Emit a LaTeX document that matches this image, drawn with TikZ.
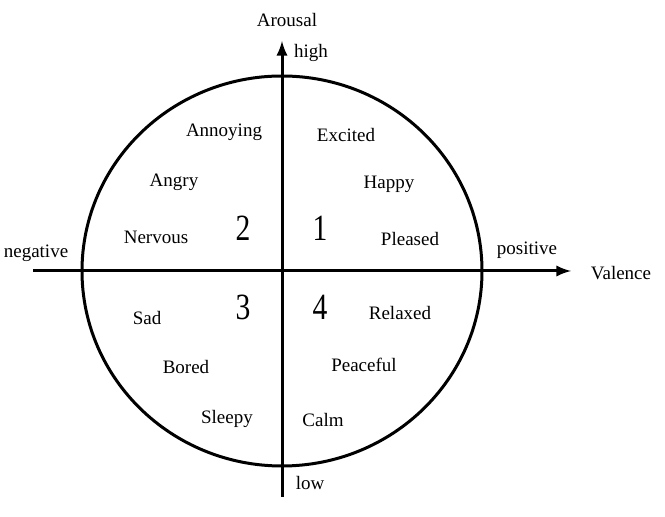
\documentclass[tikz,border=0pt]{standalone}
\usepackage{fontspec}
\setmainfont{Liberation Serif}
\usetikzlibrary{arrows}
\usetikzlibrary{math}

\newcommand{\qnum}[1]{\scalebox{0.8}[1]{#1}}

\begin{document}
\begin{tikzpicture}[x=0.5pt,y=-0.5pt,font=\fontsize{9.5}{11}\selectfont,
  emo/.style={inner sep=0pt},
  quad/.style={inner sep=0pt,font=\fontsize{18.5}{20}\selectfont}]
\tikzmath{
\cx=282;
\cy=271;
}
\useasboundingbox (0,0) rectangle (665,517);

\draw[line width=1.5] (\cx,\cy) ellipse [x radius=100pt, y radius=97.5pt];

\coordinate (west) at (33,\cy);
\coordinate (east) at (571,\cy);
\coordinate (south) at (\cx,497);
\coordinate (north) at (\cx,41);

\draw[-latex, line width=1.5] (west) -- (east);
\draw[-latex, line width=1.5] (south) -- (north);

\node[emo] (arousal) at (287,20) {Arousal};
\node[emo] (high) at (311,53) {high};
\node[emo] (low) at (310,483) {low};
\node[emo] (negative) at (36,253) {negative};
\node[emo] (positive) at (527,250) {positive};
\node[emo] (valence) at (621,273) {Valence};

\node[quad] (q1) at (320,228) {\qnum{1}};
\node[quad] (q2) at (243,228) {\qnum{2}};
\node[quad] (q3) at (243,307) {\qnum{3}};
\node[quad] (q4) at (320,307) {\qnum{4}};

\foreach \nm/\txt/\xp/\yp in {annoying/Annoying/224/132, angry/Angry/174/182,
  nervous/Nervous/156/237, excited/Excited/346/135, happy/Happy/389/184,
  pleased/Pleased/410/239, sad/Sad/147/318, bored/Bored/186/367,
  sleepy/Sleepy/227/419, relaxed/Relaxed/400/313, peaceful/Peaceful/364/365,
  calm/Calm/323/420}{
\node[emo] (\nm) at (\xp,\yp) {\txt};
}

\end{tikzpicture}
\end{document}
